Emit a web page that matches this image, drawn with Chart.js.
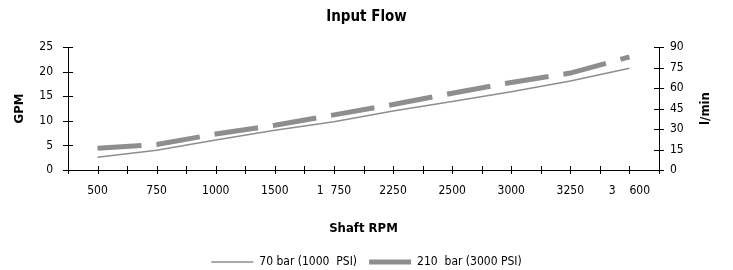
<!DOCTYPE html>
<html>
<head>
<meta charset="utf-8">
<script src="https://cdn.jsdelivr.net/npm/chart.js@4.4.1/dist/chart.umd.min.js"></script>
<style>
  html, body { margin: 0; padding: 0; background: #fff; }
  #wrap { width: 733px; height: 270px; }
</style>
</head>
<body>
<div id="wrap"><canvas id="myChart"></canvas></div>
<script>
// DATA
const rpm = ["500", "750", "1000", "1500", "1  750", "2250", "2500", "3000", "3250", "3    600"];
const flow70 = [2.6, 4.0, 6.1, 8.1, 9.8, 12.0, 13.9, 15.9, 18.1, 20.7];
const flow210 = [4.4, 5.2, 7.3, 9.1, 11.2, 13.3, 15.6, 17.8, 19.7, 23.0];
const gpmTicks = [0, 5, 10, 15, 20, 25];
const lpmTicks = [0, 15, 30, 45, 60, 75, 90];

const FONT = "'Liberation Sans Narrow', 'DejaVu Sans Condensed', sans-serif";
const GREY = "#8e8e8e";

// tick marks that cross the axis lines + right axis title (reads bottom to top)
const crossTicks = {
  id: "crossTicks",
  afterDraw(chart) {
    const { ctx, scales } = chart;
    const x = scales.x, y = scales.y, y2 = scales.y2;
    ctx.save();
    ctx.strokeStyle = "#000";
    ctx.lineWidth = 1;
    ctx.beginPath();
    for (let i = -0.5; i <= rpm.length - 0.5; i += 0.5) {
      const px = Math.round(x.getPixelForValue(i)) + 0.5;
      ctx.moveTo(px, x.top - 4);
      ctx.lineTo(px, x.top + 4);
    }
    y.ticks.forEach((t) => {
      const py = Math.round(y.getPixelForValue(t.value)) + 0.5;
      ctx.moveTo(y.right - 5, py);
      ctx.lineTo(y.right + 5, py);
    });
    y2.ticks.forEach((t) => {
      const py = Math.round(y2.getPixelForValue(t.value)) + 0.5;
      ctx.moveTo(y2.left - 5, py);
      ctx.lineTo(y2.left + 5, py);
    });
    ctx.stroke();

    ctx.translate(706, (chart.chartArea.top + chart.chartArea.bottom) / 2);
    ctx.rotate(-Math.PI / 2);
    ctx.font = "bold 13px " + FONT;
    ctx.fillStyle = "#000";
    ctx.textAlign = "center";
    ctx.textBaseline = "middle";
    ctx.fillText("l/min", 0, 0);
    ctx.restore();
  },
};

const ctx = document.getElementById("myChart");

new Chart(ctx, {
  type: "line",
  data: {
    labels: rpm,
    datasets: [
      {
        label: "70 bar (1000  PSI)",
        data: flow70,
        borderColor: GREY,
        backgroundColor: GREY,
        borderWidth: 1.5,
        pointRadius: 0,
        tension: 0,
        yAxisID: "y",
      },
      {
        label: "210  bar (3000 PSI)",
        data: flow210,
        borderColor: GREY,
        backgroundColor: GREY,
        borderWidth: 5,
        borderDash: [44, 15],
        borderCapStyle: "butt",
        pointRadius: 0,
        tension: 0,
        yAxisID: "y",
      },
    ],
  },
  options: {
    responsive: true,
    maintainAspectRatio: false,
    animation: false,
    events: [],
    layout: { padding: { left: 0, right: 0, top: 0, bottom: -8 } },
    plugins: {
      title: {
        display: true,
        text: "Input Flow",
        color: "#000",
        font: { family: FONT, size: 15, weight: "bold" },
        padding: { top: 8, bottom: 21 },
      },
      legend: {
        position: "bottom",
        labels: {
          color: "#000",
          font: { family: FONT, size: 12 },
          boxWidth: 42,
          boxHeight: 0,
          padding: 12,
        },
      },
      tooltip: { enabled: false },
    },
    scales: {
      x: {
        offset: true,
        grid: { display: false, drawTicks: false },
        border: { color: "#000", width: 1 },
        ticks: {
          color: "#000",
          font: { family: FONT, size: 12 },
          padding: 14,
          maxRotation: 0,
          autoSkip: false,
        },
        title: {
          display: true,
          text: "Shaft RPM",
          color: "#000",
          font: { family: FONT, size: 13, weight: "bold" },
          padding: { top: 0, bottom: 8 },
        },
        afterFit(scale) {
          scale.height = 74;
        },
      },
      y: {
        position: "left",
        min: 0,
        max: 25,
        grid: { display: false, drawTicks: false },
        border: { color: "#000", width: 1 },
        ticks: {
          color: "#000",
          font: { family: FONT, size: 12 },
          padding: 15,
          stepSize: 5,
          callback: (v) => (gpmTicks.includes(v) ? v : null),
        },
        title: {
          display: true,
          text: "GPM",
          color: "#000",
          font: { family: FONT, size: 13, weight: "bold" },
          padding: { top: 12, bottom: 0 },
        },
        afterFit(scale) {
          scale.width = 68;
        },
      },
      y2: {
        position: "right",
        min: 0,
        max: 90,
        grid: { display: false, drawTicks: false },
        border: { color: "#000", width: 1 },
        ticks: {
          color: "#000",
          font: { family: FONT, size: 12 },
          padding: 11,
          stepSize: 15,
          callback: (v) => (lpmTicks.includes(v) ? v : null),
        },
        afterFit(scale) {
          scale.width = 74;
        },
      },
    },
  },
  plugins: [crossTicks],
});
</script>
</body>
</html>
